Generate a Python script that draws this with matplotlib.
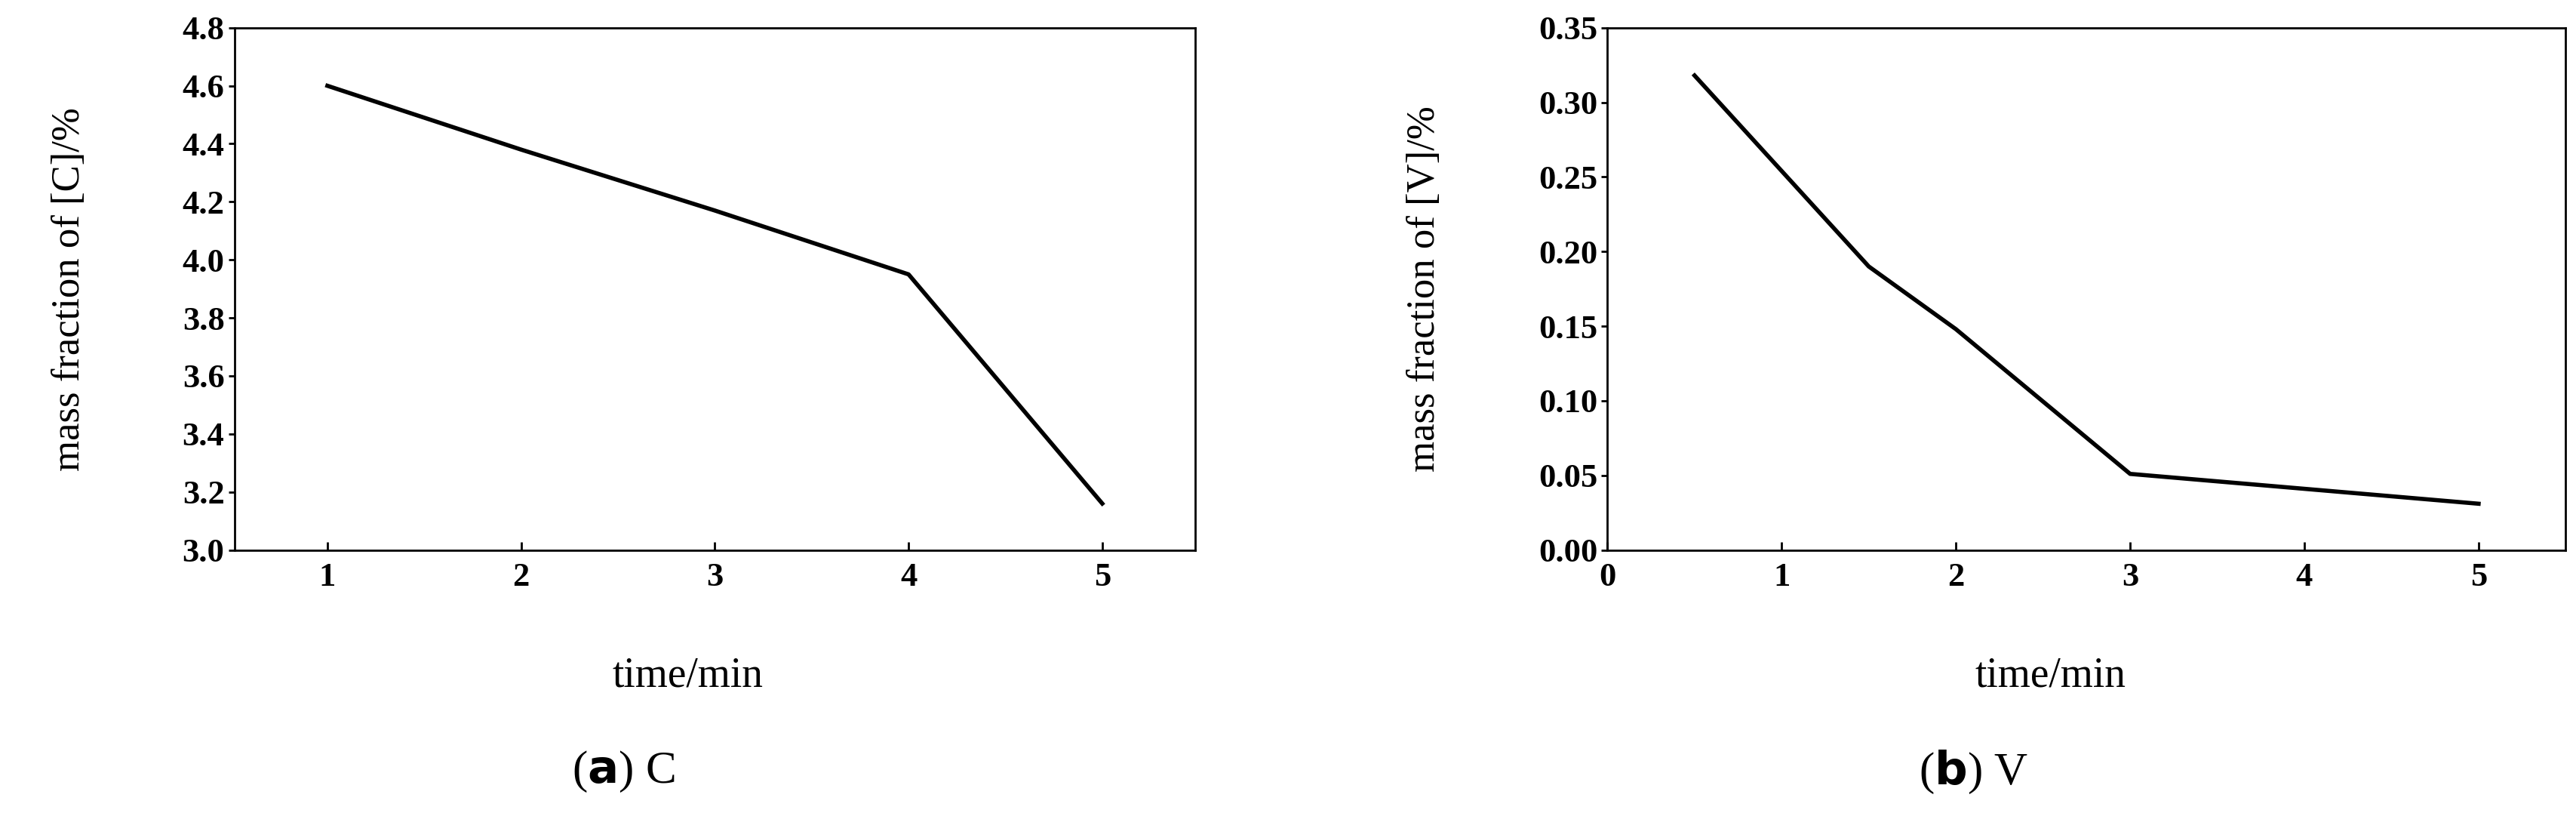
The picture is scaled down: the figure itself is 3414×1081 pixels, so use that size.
import matplotlib
matplotlib.use("Agg")
import matplotlib.pyplot as plt

c_time = [1, 2, 3, 4, 5]
c_vals = [4.60, 4.38, 4.17, 3.95, 3.16]
v_time = [0.5, 1.5, 2, 3, 4, 5]
v_vals = [0.318, 0.190, 0.148, 0.051, 0.041, 0.031]
c_yticks = [3.0, 3.2, 3.4, 3.6, 3.8, 4.0, 4.2, 4.4, 4.6, 4.8]
v_yticks = [0.00, 0.05, 0.10, 0.15, 0.20, 0.25, 0.30, 0.35]

plt.rcParams['font.family'] = ['Liberation Serif', 'DejaVu Serif']
fig = plt.figure(figsize=(34.14, 10.81), dpi=100)
ax1 = fig.add_axes([0.091, 0.326, 0.373, 0.640])
ax2 = fig.add_axes([0.624, 0.326, 0.372, 0.640])

ax1.plot(c_time, c_vals, color='black', lw=4)
ax1.set_xlim(0.52, 5.48)
ax1.set_ylim(3.0, 4.8)
ax1.set_xticks([1, 2, 3, 4, 5])
ax1.set_yticks(c_yticks)
ax1.set_yticklabels([f"{t:.1f}" for t in c_yticks])

ax2.plot(v_time, v_vals, color='black', lw=4)
ax2.set_xlim(0, 5.5)
ax2.set_ylim(0, 0.35)
ax2.set_xticks([0, 1, 2, 3, 4, 5])
ax2.set_yticks(v_yticks)
ax2.set_yticklabels([f"{t:.2f}" for t in v_yticks])

for ax in (ax1, ax2):
    for s in ax.spines.values():
        s.set_linewidth(2)
    ax.tick_params(axis='x', direction='in', length=8, width=2, labelsize=32, pad=12)
    ax.tick_params(axis='y', direction='out', length=6, width=2, labelsize=32)
    for lab in ax.get_xticklabels() + ax.get_yticklabels():
        lab.set_fontweight('bold')

fig.text(0.027, 0.646, "mass fraction of [C]/%", rotation=90, ha='center', va='center', fontsize=38)
fig.text(0.553, 0.646, "mass fraction of [V]/%", rotation=90, ha='center', va='center', fontsize=38)
fig.text(0.267, 0.172, "time/min", ha='center', va='center', fontsize=40)
fig.text(0.796, 0.172, "time/min", ha='center', va='center', fontsize=40)
fig.text(0.242, 0.054, r"($\mathbf{a}$) C", ha='center', va='center', fontsize=44)
fig.text(0.766, 0.054, r"($\mathbf{b}$) V", ha='center', va='center', fontsize=44)
plt.rcParams['mathtext.fontset'] = 'custom'

fig.savefig("out.png", dpi=100)
